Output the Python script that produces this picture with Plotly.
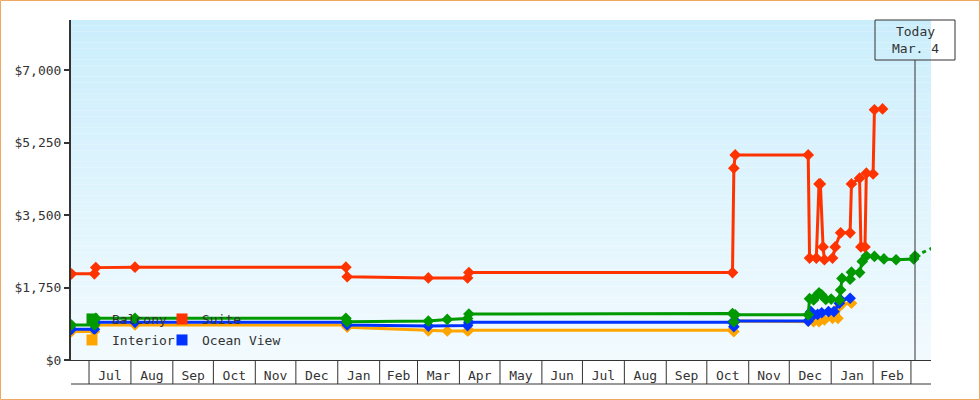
import plotly.graph_objects as go
import pandas as pd

# ---------------- data ----------------
suite_dates = ['2013-06-18', '2013-07-05', '2013-07-06', '2013-08-04', '2014-01-07', '2014-01-08',
               '2014-03-09', '2014-04-07', '2014-04-08', '2014-10-20', '2014-10-21', '2014-10-22',
               '2014-12-15', '2014-12-16', '2014-12-21', '2014-12-23', '2014-12-24', '2014-12-26',
               '2014-12-27', '2015-01-02', '2015-01-04', '2015-01-08', '2015-01-15', '2015-01-16',
               '2015-01-22', '2015-01-23', '2015-01-26', '2015-01-27', '2015-02-01', '2015-02-02',
               '2015-02-08']
suite_values = [2080, 2080, 2230, 2240, 2240, 2010,
                1980, 1980, 2110, 2110, 4630, 4950,
                4950, 2460, 2460, 4250, 4250, 2730,
                2420, 2460, 2730, 3070, 3070, 4250,
                4390, 2730, 2730, 4510, 4490, 6040,
                6060]

balcony_dates = ['2013-06-18', '2013-07-05', '2013-07-06', '2013-08-04', '2014-01-07', '2014-01-08',
                 '2014-03-09', '2014-03-23', '2014-04-07', '2014-04-08', '2014-10-20', '2014-10-21',
                 '2014-10-22', '2014-12-15', '2014-12-16', '2014-12-19', '2014-12-21', '2014-12-23',
                 '2014-12-25', '2014-12-28', '2015-01-01', '2015-01-07', '2015-01-08', '2015-01-09',
                 '2015-01-15', '2015-01-16', '2015-01-22', '2015-01-24', '2015-01-27', '2015-02-02',
                 '2015-02-09', '2015-02-18', '2015-03-03', '2015-03-04']
balcony_values = [845, 845, 1006, 1006, 1006, 925,
                  940, 980, 1000, 1110, 1120, 925,
                  1090, 1090, 1480, 1450, 1550, 1620,
                  1570, 1460, 1470, 1450, 1690, 1970,
                  1950, 2120, 2110, 2380, 2510, 2500,
                  2440, 2420, 2440, 2510]

balcony_forecast_dates = ['2015-03-04', '2015-03-20']
balcony_forecast_values = [2510, 2750]

ocean_dates = ['2013-06-18', '2013-07-05', '2013-07-06', '2013-08-04', '2014-01-07', '2014-01-08',
               '2014-03-09', '2014-04-07', '2014-04-08', '2014-10-20', '2014-10-21', '2014-10-22',
               '2014-12-15', '2014-12-17', '2014-12-19', '2014-12-22', '2014-12-25', '2014-12-30',
               '2015-01-03', '2015-01-07', '2015-01-08', '2015-01-15']
ocean_values = [740, 740, 910, 910, 910, 845,
                820, 830, 910, 910, 805, 940,
                940, 1170, 1090, 1100, 1140, 1170,
                1170, 1370, 1450, 1490]

interior_dates = ['2013-06-18', '2013-07-05', '2013-07-06', '2013-08-04', '2014-01-07', '2014-01-08',
                  '2014-03-09', '2014-03-23', '2014-04-07', '2014-04-08', '2014-10-20', '2014-10-21',
                  '2014-10-22', '2014-12-15', '2014-12-19', '2014-12-23', '2014-12-27', '2015-01-02',
                  '2015-01-06', '2015-01-07', '2015-01-09', '2015-01-16']
interior_values = [685, 685, 845, 845, 845, 790,
                   705, 700, 700, 720, 720, 685,
                   940, 940, 925, 925, 965, 1006,
                   1006, 1287, 1350, 1370]

y_tick_values = [0, 1750, 3500, 5250, 7000]
y_tick_labels = ['$0', '$1,750', '$3,500', '$5,250', '$7,000']
month_labels = ['Jul', 'Aug', 'Sep', 'Oct', 'Nov', 'Dec', 'Jan', 'Feb', 'Mar', 'Apr',
                'May', 'Jun', 'Jul', 'Aug', 'Sep', 'Oct', 'Nov', 'Dec', 'Jan', 'Feb']
first_month = '2013-07-01'
x_range = ['2013-06-17 16:00', '2015-03-15 20:00']
today = '2015-03-04'
today_label = 'Today<br>Mar. 4'

# ---------------- styling ----------------
FONT = 'DejaVu Sans Mono'
TXT = '#333333'
W, H = 980, 400
ML, MR, MT, MB = 71, 49, 20, 40
PW, PH = W - ML - MR, H - MT - MB


def px_to_paper_x(px):
    return (px - ML) / PW


def px_to_paper_y(py):
    return (H - MB - py) / PH


fig = go.Figure()

series = [
    ('Interior', interior_dates, interior_values, '#ffa500'),
    ('Ocean View', ocean_dates, ocean_values, '#0033ff'),
    ('Balcony', balcony_dates, balcony_values, '#009900'),
    ('Suite', suite_dates, suite_values, '#ff3300'),
]

for name, d, v, c in series:
    fig.add_trace(go.Scatter(
        x=d, y=v, mode='lines+markers', name=name, showlegend=False,
        line=dict(color=c, width=3),
        marker=dict(symbol='diamond', size=9, color=c),
        hoverinfo='x+y+name'))

fig.add_trace(go.Scatter(
    x=balcony_forecast_dates, y=balcony_forecast_values, mode='lines', showlegend=False,
    line=dict(color='#009900', width=3, dash='4px,4px'), hoverinfo='skip'))

# legend entries (square swatches), one small legend per entry
legend_slots = {'Balcony': ('legend', 72, 319), 'Suite': ('legend2', 162, 319),
                'Interior': ('legend3', 72, 340), 'Ocean View': ('legend4', 162, 340)}
legend_layout = {}
for name, d, v, c in series:
    lg, lx, ly = legend_slots[name]
    fig.add_trace(go.Scatter(
        x=[None], y=[None], mode='markers', name=name, legend=lg,
        marker=dict(symbol='square', size=11, color=c)))
    legend_layout[lg] = dict(orientation='h', x=px_to_paper_x(lx), y=px_to_paper_y(ly),
                             xanchor='left', yanchor='middle',
                             bgcolor='rgba(0,0,0,0)', borderwidth=0, itemwidth=30,
                             font=dict(family=FONT, size=13, color=TXT))

# gradient background (plot area)
top = (203, 238, 252)
bot = (242, 250, 254)
N = 60
shapes = []
for i in range(N):
    t = i / (N - 1)
    col = tuple(round(top[k] + (bot[k] - top[k]) * t) for k in range(3))
    shapes.append(dict(type='rect', xref='paper', yref='paper',
                       x0=0, x1=1, y0=1 - (i + 1) / N, y1=1 - i / N,
                       fillcolor='rgb(%d,%d,%d)' % col, line=dict(width=0), layer='below'))

r0 = pd.Timestamp(x_range[0])
r1 = pd.Timestamp(x_range[1])
today_p = (pd.Timestamp(today) - r0) / (r1 - r0)

# month cells below the axis
month_starts = pd.date_range(first_month, periods=len(month_labels) + 1, freq='MS')
month_mids = [month_starts[i] + (month_starts[i + 1] - month_starts[i]) / 2
              for i in range(len(month_labels))]
band_y = px_to_paper_y(384)
for ms in month_starts:
    shapes.append(dict(type='line', xref='x', yref='paper', x0=ms, x1=ms,
                       y0=0, y1=band_y, line=dict(color=TXT, width=1)))
shapes.append(dict(type='line', xref='paper', yref='paper', x0=0, x1=1,
                   y0=band_y, y1=band_y, line=dict(color=TXT, width=1)))
# today line and box
shapes.append(dict(type='line', xref='paper', yref='paper', x0=today_p, x1=today_p,
                   y0=0, y1=px_to_paper_y(60), line=dict(color=TXT, width=1)))
shapes.append(dict(type='rect', xref='paper', yref='paper',
                   x0=today_p - 40 / PW, x1=today_p + 40 / PW,
                   y0=px_to_paper_y(60), y1=1, line=dict(color=TXT, width=1)))
# outer border
shapes.append(dict(type='rect', xref='paper', yref='paper',
                   x0=px_to_paper_x(0.5), x1=px_to_paper_x(W - 0.5),
                   y0=px_to_paper_y(H - 0.5), y1=px_to_paper_y(0.5),
                   line=dict(color='#f0a860', width=1)))

fig.update_layout(
    width=W, height=H,
    margin=dict(l=ML, r=MR, t=MT, b=MB),
    paper_bgcolor='white', plot_bgcolor='rgba(0,0,0,0)',
    font=dict(family=FONT, size=13, color=TXT),
    shapes=shapes,
    annotations=[dict(xref='paper', yref='paper', x=today_p, y=px_to_paper_y(40),
                      text=today_label, showarrow=False, xanchor='center', yanchor='middle',
                      font=dict(family=FONT, size=13, color=TXT))],
    xaxis=dict(type='date', range=x_range, showgrid=False, zeroline=False,
               showline=True, linecolor=TXT, linewidth=1,
               tickmode='array', tickvals=month_mids, ticktext=month_labels,
               ticks='', ticklabelstandoff=3,
               tickfont=dict(family=FONT, size=13, color=TXT)),
    yaxis=dict(range=[0, 8207], showgrid=False, zeroline=False,
               showline=True, linecolor=TXT, linewidth=2,
               tickmode='array', tickvals=y_tick_values, ticktext=y_tick_labels,
               ticks='outside', ticklen=5, tickwidth=2, tickcolor=TXT,
               tickfont=dict(family=FONT, size=13, color=TXT)),
    hovermode='closest',
    **legend_layout,
)

fig.write_html('out.html', config={'displayModeBar': False},
               post_script="document.body.style.margin='0px';")
